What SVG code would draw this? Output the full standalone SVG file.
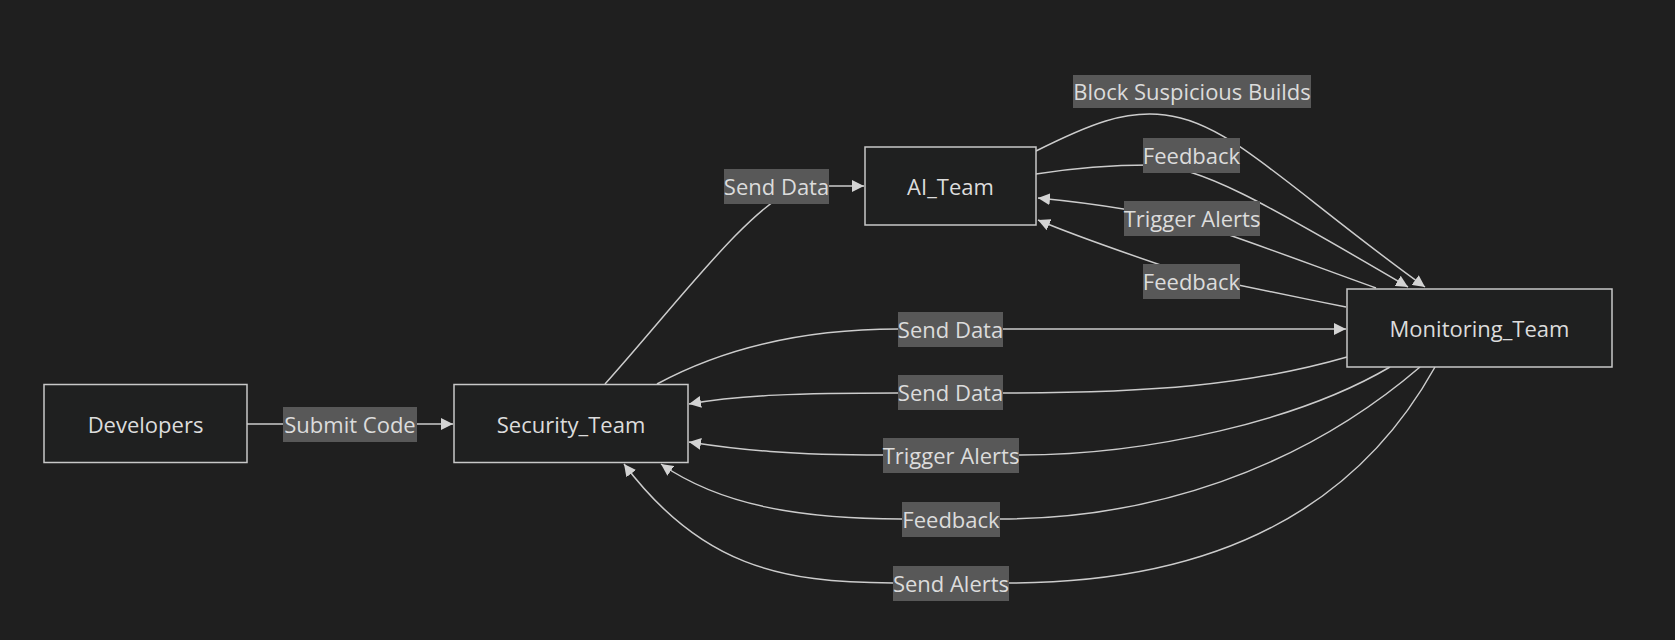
<svg xmlns="http://www.w3.org/2000/svg" width="1675" height="640" viewBox="0 0 1675 640">
<defs>
<style>
.node rect{fill:#1f2020;stroke:#c8c8c8;stroke-width:1.5}
.node text,.lbl text{font-family:"Open Sans","Liberation Sans",sans-serif;font-size:22px;fill:#dcdcdc;text-anchor:middle;dominant-baseline:central}
.edges path{fill:none;stroke:#cccccc;stroke-width:1.5;marker-end:url(#arr)}
.lbl rect{fill:#585858}
</style>
<marker id="arr" viewBox="0 0 10 10" refX="10" refY="5" markerWidth="12" markerHeight="12" markerUnits="userSpaceOnUse" orient="auto">
<path d="M0,0 L10,5 L0,10 z" fill="#d3d3d3"/>
</marker>
</defs>
<rect width="1675" height="640" fill="#1f1f1f"/>
<g class="edges" id="connectors">
<path d="M247,424 L453,424"/>
<path d="M605,384 C680,300 750,205 800,186 L864,186"/>
<path d="M657,384 C720,350 800,329 898,329 L1346,329"/>
<path d="M1347,357 C1250,385 1150,393 1003,393 L898,393 C800,393 740,395 689,404"/>
<path d="M1390,367 C1300,420 1150,455 1020,455 L883,455 C790,455 740,450 689,442"/>
<path d="M1420,367 C1300,470 1150,519 1000,519 L901,519 C800,519 720,505 661,464"/>
<path d="M1435,367 C1350,520 1200,583 1009,583 L893,583 C780,583 700,565 624,464"/>
<path d="M1036,151 C1090,124 1125,110 1165,115 C1230,122 1290,190 1425,287"/>
<path d="M1036,174 C1080,167 1110,165 1150,165 C1200,166 1260,200 1408,287"/>
<path d="M1376,288 C1320,268 1260,245 1200,225 C1150,212 1090,203 1038,198"/>
<path d="M1346,307 C1290,296 1230,283 1190,275 C1140,258 1080,238 1038,220"/>
</g>
<g class="lbl" id="label-submit-code"><rect x="283" y="407" width="134" height="35"/><text x="350" y="424">Submit Code</text></g>
<g class="lbl" id="label-send-data-ai"><rect x="724" y="169" width="105" height="35"/><text x="776.5" y="186">Send Data</text></g>
<g class="lbl" id="label-send-data-1"><rect x="898" y="312" width="105" height="35"/><text x="950.5" y="329">Send Data</text></g>
<g class="lbl" id="label-send-data-2"><rect x="898" y="375" width="105" height="35"/><text x="950.5" y="392">Send Data</text></g>
<g class="lbl" id="label-trigger-alerts-1"><rect x="883" y="438" width="136" height="35"/><text x="951" y="455">Trigger Alerts</text></g>
<g class="lbl" id="label-feedback-1"><rect x="902" y="502" width="98" height="35"/><text x="951" y="519">Feedback</text></g>
<g class="lbl" id="label-send-alerts"><rect x="893" y="566" width="116" height="35"/><text x="951" y="583">Send Alerts</text></g>
<g class="lbl" id="label-block"><rect x="1073" y="75" width="238" height="33"/><text x="1192" y="91">Block Suspicious Builds</text></g>
<g class="lbl" id="label-feedback-2"><rect x="1143" y="138" width="97" height="35"/><text x="1191.5" y="155">Feedback</text></g>
<g class="lbl" id="label-trigger-alerts-2"><rect x="1124" y="201" width="136" height="35"/><text x="1192" y="218">Trigger Alerts</text></g>
<g class="lbl" id="label-feedback-3"><rect x="1143" y="264" width="97" height="35"/><text x="1191.5" y="281">Feedback</text></g>
<g class="node" id="Developers"><rect x="44" y="384.5" width="203" height="78"/><text x="145.5" y="424">Developers</text></g>
<g class="node" id="Security_Team"><rect x="454" y="384.5" width="234" height="78"/><text x="571" y="424">Security_Team</text></g>
<g class="node" id="AI_Team"><rect x="865" y="147" width="171" height="78"/><text x="950.5" y="186">AI_Team</text></g>
<g class="node" id="Monitoring_Team"><rect x="1347" y="289" width="265" height="78"/><text x="1479.5" y="328">Monitoring_Team</text></g>
</svg>
